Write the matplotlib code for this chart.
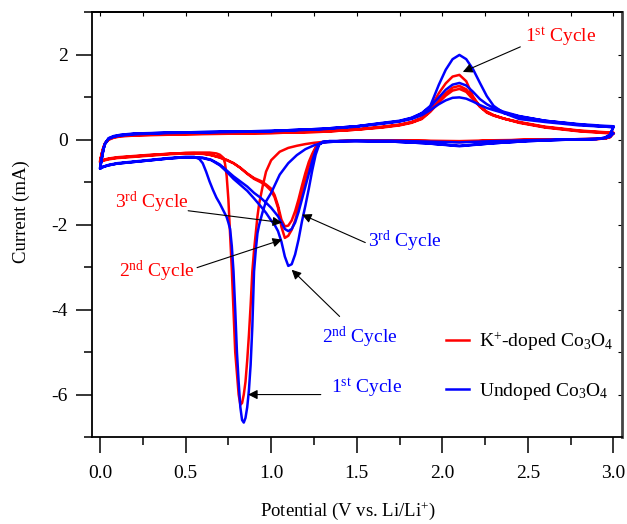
"""CV curves: K+-doped vs undoped Co3O4, first three cycles"""

import numpy as np
import matplotlib
matplotlib.use("Agg")
import matplotlib.pyplot as plt
from matplotlib.lines import Line2D

plt.rcParams['font.family'] = ['Liberation Serif', 'DejaVu Serif']
plt.rcParams['mathtext.fontset'] = 'custom'
plt.rcParams['mathtext.rm'] = 'Liberation Serif'
plt.rcParams['mathtext.it'] = 'Liberation Serif:italic'
plt.rcParams['axes.unicode_minus'] = False

# ============================
# 1. data, potential in V, current in mA
# ============================
# cathodic sweep 3.0 -> 0.0 V, cycle 1
v_cath1 = [3.00, 2.98, 2.95, 2.90, 2.70, 2.50, 2.30, 2.10, 1.90, 1.70,
           1.50, 1.40, 1.30, 1.25, 1.20, 1.15, 1.10, 1.05, 1.00, 0.97,
           0.95, 0.93, 0.92, 0.91, 0.90, 0.89, 0.88, 0.87, 0.86, 0.85,
           0.84, 0.83, 0.82, 0.81, 0.80, 0.79, 0.78, 0.77, 0.76, 0.75,
           0.74, 0.73, 0.72, 0.70, 0.68, 0.66, 0.64, 0.62, 0.60, 0.58,
           0.55, 0.50, 0.40, 0.30, 0.20, 0.10, 0.05, 0.02, 0.00]
# cathodic sweep, cycles 2 and 3
v_cath23 = [3.00, 2.98, 2.95, 2.90, 2.70, 2.50, 2.30, 2.10, 1.90, 1.70,
            1.50, 1.40, 1.34, 1.30, 1.28, 1.26, 1.24, 1.22, 1.20, 1.18,
            1.16, 1.14, 1.12, 1.10, 1.08, 1.06, 1.04, 1.02, 1.00, 0.97,
            0.94, 0.90, 0.86, 0.82, 0.78, 0.74, 0.70, 0.65, 0.60, 0.50,
            0.40, 0.30, 0.20, 0.10, 0.05, 0.02, 0.00]
# anodic sweep 0.0 -> 3.0 V
v_anod = [0.00, 0.01, 0.02, 0.03, 0.05, 0.08, 0.12, 0.20, 0.40, 0.70,
          1.00, 1.30, 1.50, 1.65, 1.75, 1.82, 1.88, 1.93, 1.98, 2.02,
          2.06, 2.10, 2.14, 2.18, 2.22, 2.26, 2.30, 2.36, 2.45, 2.60,
          2.80, 2.95, 3.00]

# K+-doped Co3O4
k_cath1 = [0.15, 0.06, 0.03, 0.02, 0.01, 0.00, -0.01, -0.03, -0.02, -0.02,
           -0.02, -0.03, -0.05, -0.07, -0.10, -0.14, -0.19, -0.28, -0.48, -0.75,
           -1.10, -1.50, -1.80, -2.20, -2.60, -3.10, -3.90, -4.60, -5.20, -5.70,
           -6.00, -6.20, -6.24, -6.00, -5.50, -5.00, -4.00, -3.05, -2.20, -1.40,
           -0.85, -0.55, -0.42, -0.35, -0.32, -0.31, -0.30, -0.30, -0.30, -0.30,
           -0.30, -0.31, -0.33, -0.35, -0.38, -0.41, -0.44, -0.47, -0.50]
k_anod1 = [-0.50, -0.32, -0.17, -0.07, 0.02, 0.07, 0.10, 0.12, 0.14, 0.16,
           0.17, 0.20, 0.25, 0.31, 0.36, 0.42, 0.52, 0.75, 1.10, 1.33,
           1.49, 1.53, 1.38, 1.02, 0.78, 0.64, 0.57, 0.50, 0.42, 0.31,
           0.22, 0.18, 0.17]
k_cath2 = [0.17, 0.07, 0.03, 0.02, 0.01, 0.00, -0.02, -0.05, -0.03, -0.02,
           -0.02, -0.03, -0.04, -0.06, -0.10, -0.20, -0.40, -0.62, -0.92, -1.25,
           -1.60, -1.90, -2.12, -2.26, -2.31, -2.05, -1.60, -1.35, -1.20, -1.08,
           -1.00, -0.92, -0.80, -0.66, -0.55, -0.48, -0.42, -0.36, -0.32, -0.31,
           -0.33, -0.36, -0.39, -0.42, -0.45, -0.48, -0.52]
k_anod2 = [-0.52, -0.33, -0.18, -0.08, 0.01, 0.06, 0.09, 0.11, 0.13, 0.15,
           0.16, 0.19, 0.24, 0.30, 0.35, 0.41, 0.50, 0.68, 0.93, 1.10,
           1.23, 1.27, 1.19, 0.98, 0.79, 0.66, 0.58, 0.50, 0.41, 0.30,
           0.21, 0.17, 0.16]
k_cath3 = [0.16, 0.07, 0.03, 0.02, 0.01, 0.00, -0.02, -0.05, -0.03, -0.02,
           -0.02, -0.03, -0.04, -0.06, -0.09, -0.17, -0.33, -0.52, -0.78, -1.08,
           -1.40, -1.68, -1.90, -2.02, -2.04, -1.88, -1.55, -1.30, -1.15, -1.05,
           -0.97, -0.90, -0.79, -0.66, -0.55, -0.47, -0.41, -0.36, -0.33, -0.32,
           -0.34, -0.37, -0.40, -0.43, -0.46, -0.49, -0.53]
k_anod3 = [-0.53, -0.34, -0.19, -0.09, 0.00, 0.05, 0.08, 0.10, 0.12, 0.14,
           0.16, 0.19, 0.24, 0.29, 0.34, 0.40, 0.49, 0.66, 0.88, 1.04,
           1.16, 1.20, 1.13, 0.95, 0.78, 0.66, 0.58, 0.50, 0.40, 0.29,
           0.20, 0.16, 0.15]

# undoped Co3O4
u_cath1 = [0.15, 0.07, 0.04, 0.02, 0.01, -0.01, -0.03, -0.06, -0.04, -0.02,
           -0.02, -0.03, -0.07, -0.13, -0.22, -0.36, -0.55, -0.82, -1.25, -1.45,
           -1.70, -2.00, -2.20, -2.60, -3.10, -4.40, -5.30, -5.90, -6.30, -6.55,
           -6.66, -6.60, -6.30, -5.70, -5.00, -4.00, -3.10, -2.50, -2.10, -1.95,
           -1.82, -1.74, -1.66, -1.50, -1.36, -1.18, -0.98, -0.75, -0.55, -0.45,
           -0.40, -0.40, -0.43, -0.47, -0.51, -0.55, -0.59, -0.63, -0.68]
u_anod1 = [-0.68, -0.45, -0.22, -0.08, 0.04, 0.09, 0.12, 0.15, 0.17, 0.19,
           0.21, 0.26, 0.32, 0.40, 0.45, 0.52, 0.63, 0.80, 1.30, 1.65,
           1.90, 2.00, 1.90, 1.66, 1.34, 1.03, 0.80, 0.63, 0.49, 0.42,
           0.34, 0.31, 0.30]
u_cath2 = [0.30, 0.12, 0.05, 0.02, 0.00, -0.03, -0.08, -0.15, -0.08, -0.04,
           -0.03, -0.03, -0.03, -0.05, -0.12, -0.35, -0.72, -1.15, -1.55, -1.92,
           -2.35, -2.70, -2.93, -2.97, -2.75, -2.40, -2.15, -2.00, -1.90, -1.72,
           -1.57, -1.38, -1.20, -1.06, -0.92, -0.75, -0.60, -0.48, -0.43, -0.41,
           -0.44, -0.48, -0.52, -0.56, -0.60, -0.63, -0.66]
u_anod2 = [-0.66, -0.44, -0.21, -0.08, 0.03, 0.08, 0.11, 0.14, 0.17, 0.19,
           0.21, 0.26, 0.32, 0.39, 0.44, 0.51, 0.62, 0.78, 1.00, 1.18,
           1.30, 1.34, 1.28, 1.13, 0.96, 0.84, 0.75, 0.66, 0.56, 0.45,
           0.36, 0.31, 0.30]
u_cath3 = [0.30, 0.12, 0.05, 0.02, 0.00, -0.03, -0.08, -0.14, -0.08, -0.04,
           -0.03, -0.03, -0.03, -0.05, -0.10, -0.25, -0.50, -0.80, -1.10, -1.40,
           -1.70, -1.95, -2.10, -2.15, -2.10, -1.95, -1.80, -1.70, -1.60, -1.48,
           -1.37, -1.25, -1.10, -0.98, -0.86, -0.72, -0.58, -0.47, -0.42, -0.41,
           -0.44, -0.48, -0.52, -0.56, -0.60, -0.64, -0.68]
u_anod3 = [-0.68, -0.46, -0.23, -0.09, 0.02, 0.07, 0.10, 0.13, 0.16, 0.18,
           0.20, 0.25, 0.31, 0.38, 0.43, 0.49, 0.58, 0.70, 0.84, 0.93,
           0.99, 1.00, 0.97, 0.90, 0.82, 0.75, 0.70, 0.63, 0.55, 0.45,
           0.37, 0.33, 0.32]

# stitch the three cycles into one continuous trace per sample
v_all = np.concatenate([v_cath1, v_anod, v_cath23, v_anod, v_cath23, v_anod])
i_k = np.concatenate([k_cath1, k_anod1, k_cath2, k_anod2, k_cath3, k_anod3])
i_u = np.concatenate([u_cath1, u_anod1, u_cath2, u_anod2, u_cath3, u_anod3])

# ============================
# 2. figure
# ============================
fig = plt.figure(figsize=(6.27, 5.24), dpi=100)
ax = fig.add_axes([0.1467, 0.166, 0.8453, 0.811])

ax.plot(v_all, i_k, color='#ff0000', lw=1.8, solid_joinstyle='round')
ax.plot(v_all, i_u, color='#0000ff', lw=1.8, solid_joinstyle='round')

ax.set_xlim(-0.047, 3.05)
ax.set_ylim(-7, 3.01)

# bottom / left: big outward ticks
ax.set_xticks(np.arange(0, 3.01, 0.5))
ax.set_xticks(np.arange(0.25, 3.0, 0.5), minor=True)
ax.set_xticklabels([f"{t:.1f}" for t in np.arange(0, 3.01, 0.5)])
ax.set_yticks([-6, -4, -2, 0, 2])
ax.set_yticks([-7, -5, -3, -1, 1, 3], minor=True)
ax.set_yticklabels(['-6', '-4', '-2', '0', '2'])
ax.tick_params(which='major', direction='out', length=11.5, width=1.1,
               labelsize=14, top=False, right=False)
ax.tick_params(which='minor', direction='out', length=6, width=1.1,
               top=False, right=False)
ax.tick_params(axis='x', which='major', pad=8.5)
ax.tick_params(axis='y', which='major', pad=6)

# top / right: small inward ticks
top = ax.secondary_xaxis('top')
top.set_xticks(np.arange(0, 3.01, 0.25))
top.tick_params(direction='in', length=3, width=0.8, labeltop=False)
rgt = ax.secondary_yaxis('right')
rgt.set_yticks(np.arange(-6, 2.1, 1))
rgt.tick_params(direction='in', length=3, width=0.8, labelright=False)

for s in ['left', 'bottom', 'top']:
    ax.spines[s].set_linewidth(1.3)
top.spines['top'].set_linewidth(1.3)
rgt.spines['right'].set_linewidth(2.0)
rgt.spines['right'].set_color('#444444')
ax.spines['right'].set_visible(False)

ax.set_xlabel("Potential (V vs. Li/Li$^{+}$)", fontsize=13.5)
ax.set_ylabel("Current (mA)", fontsize=13.5)
ax.xaxis.set_label_coords(0.482, -0.148)
ax.yaxis.set_label_coords(-0.117, 0.53)

# ============================
# 3. cycle labels + arrows
# ============================
arrow = dict(arrowstyle='-|>', color='black', lw=0.8, mutation_scale=14,
             shrinkA=0, shrinkB=0)

def label(txt, xy_text, tail, tip, color):
    ax.text(xy_text[0], xy_text[1], txt, color=color, fontsize=14,
            ha='left', va='center')
    ax.annotate('', xy=tip, xytext=tail, arrowprops=arrow)

label("1$^{\\mathrm{st}}$ Cycle", (2.485, 2.42), (2.456, 2.19), (2.12, 1.60), '#ff0000')
label("3$^{\\mathrm{rd}}$ Cycle", (0.088, -1.48), (0.515, -1.67), (1.064, -1.95), '#ff0000')
label("2$^{\\mathrm{nd}}$ Cycle", (0.11, -3.10), (0.567, -3.01), (1.064, -2.35), '#ff0000')
label("3$^{\\mathrm{rd}}$ Cycle", (1.567, -2.40), (1.55, -2.42), (1.18, -1.76), '#0000ff')
label("2$^{\\mathrm{nd}}$ Cycle", (1.30, -4.66), (1.40, -4.16), (1.12, -3.06), '#0000ff')
label("1$^{\\mathrm{st}}$ Cycle", (1.35, -5.84), (1.29, -6.00), (0.865, -6.00), '#0000ff')

# ============================
# 4. legend
# ============================
handles = [Line2D([], [], color='#ff0000', lw=1.8),
           Line2D([], [], color='#0000ff', lw=1.8)]
names = ["K$^{+}$-doped Co$_{3}$O$_{4}$", "Undoped Co$_{3}$O$_{4}$"]
ax.legend(handles, names, loc='center', bbox_to_anchor=(0.826, 0.167),
          frameon=False, fontsize=14, handlelength=1.15, handletextpad=0.5,
          labelspacing=1.4, borderpad=0.2)

plt.savefig("out.png", dpi=100)
plt.close()
